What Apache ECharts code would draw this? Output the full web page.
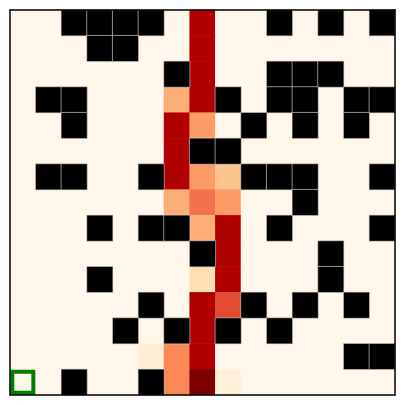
<!DOCTYPE html>
<html>
<head>
<meta charset="utf-8">
<script src="https://cdn.jsdelivr.net/npm/echarts@6/dist/echarts.min.js"></script>
<style>html,body{margin:0;padding:0;background:#fff}#c{width:405px;height:405px}</style>
</head>
<body>
<div id="c"></div>
<script>
var N = 15;
var cols = [0,1,2,3,4,5,6,7,8,9,10,11,12,13,14];
var rows = [0,1,2,3,4,5,6,7,8,9,10,11,12,13,14];
// walls per row: column indices
var walls = [
  [2,3,4,5,10,12,14],
  [3,4],
  [6,10,11,12],
  [1,2,8,10,11,13,14],
  [2,9,11,13],
  [7,8],
  [1,2,5,9,10,11,14],
  [11],
  [3,5,6,10,14],
  [7,12],
  [3,12],
  [5,9,11,13],
  [4,6,8,10],
  [13,14],
  [2,5]
];
// non-zero values: [row, col, value]
var values = [
  [0,7,7],[1,7,7],[2,7,7],
  [3,6,3.3],[3,7,7],
  [4,6,7],[4,7,3.7],
  [5,6,7],
  [6,6,7],[6,7,3.7],[6,8,2.6],
  [7,6,3.3],[7,7,4.7],[7,8,3.7],
  [8,7,3.3],[8,8,7],
  [9,8,7],
  [10,7,1.5],[10,8,7],
  [11,7,7],[11,8,5.5],
  [12,7,7],
  [13,5,0.6],[13,6,4.1],[13,7,7],
  [14,6,4.1],[14,7,8],[14,8,0.5]
];
var start = [14, 0];
var palette = ['#fff7ec','#fee8c8','#fdd49e','#fdbb84','#fc8d59','#ef6548','#d7301f','#b00000','#7f0000'];

var isWall = {};
walls.forEach(function(r, ri){ r.forEach(function(c){ isWall[ri+'_'+c] = true; }); });
var valMap = {};
values.forEach(function(v){ valMap[v[0]+'_'+v[1]] = v[2]; });
var heat = [], wallData = [];
rows.forEach(function(r){
  cols.forEach(function(c){
    var k = r+'_'+c;
    if (isWall[k]) wallData.push([c, r, 1]);
    else heat.push([c, r, valMap[k] !== undefined ? valMap[k] : 0]);
  });
});

var chart = echarts.init(document.getElementById('c'));
var axisCommon = {type:'category', axisTick:{show:false}, axisLabel:{show:false}, splitLine:{show:false}, z:10,
  axisLine:{show:true, lineStyle:{color:'#000', width:1.5}}};
chart.setOption({
  animation:false,
  backgroundColor:'#fff',
  grid:{left:10, right:10, top:10, bottom:10},
  xAxis:[
    Object.assign({data:cols, position:'bottom', gridIndex:0}, axisCommon),
    Object.assign({data:cols, position:'top', gridIndex:0}, axisCommon)
  ],
  yAxis:[
    Object.assign({data:rows, inverse:true, position:'left'}, axisCommon),
    Object.assign({data:rows, inverse:true, position:'right'}, axisCommon)
  ],
  visualMap:{show:false, type:'continuous', min:0, max:8, seriesIndex:0, inRange:{color:palette}},
  series:[
    {type:'heatmap', data:heat, xAxisIndex:0, yAxisIndex:0, itemStyle:{borderWidth:0}},
    {type:'heatmap', data:wallData, xAxisIndex:0, yAxisIndex:0,
      itemStyle:{color:'#000', borderColor:'#e2d9cf', borderWidth:0.6}},
    {type:'scatter', data:[[start[1], start[0]]], xAxisIndex:0, yAxisIndex:0, symbol:'rect', symbolSize:21, z:5,
      itemStyle:{color:'rgba(0,0,0,0)', borderColor:'#008000', borderWidth:4, opacity:1}}
  ]
});
</script>
</body>
</html>
